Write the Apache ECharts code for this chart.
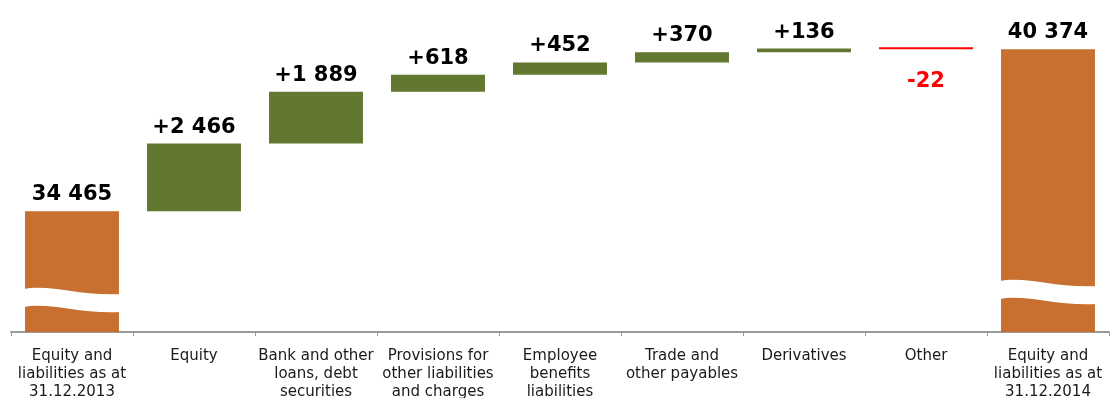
<!DOCTYPE html>
<html>
<head>
<meta charset="utf-8">
<script src="https://cdn.jsdelivr.net/npm/echarts@6/dist/echarts.min.js"></script>
<style>
  html, body { margin: 0; padding: 0; background: #fff; }
  #chart { width: 1110px; height: 398px; }
</style>
</head>
<body>
<div id="chart"></div>
<script>
// Categories of the equity-and-liabilities bridge (line breaks as drawn)
const categories = [
  'Equity and\nliabilities as at\n31.12.2013',
  'Equity',
  'Bank and other\nloans, debt\nsecurities',
  'Provisions for\nother liabilities\nand charges',
  'Employee\nbenefits\nliabilities',
  'Trade and\nother payables',
  'Derivatives',
  'Other',
  'Equity and\nliabilities as at\n31.12.2014'
];

// Opening and closing totals
const openingTotal = 34465;
const closingTotal = 40374;

// Year-on-year changes for each middle category
const changes = [2466, 1889, 618, 452, 370, 136, -22];

// Colours
const ORANGE = '#C8702F';
const GREEN = '#627730';
const RED = '#FF0000';

// Value axis window (lower part of the axis is cut away)
const Y_MIN = 30060;
const Y_MAX = 41000;

// Build stacked waterfall series from the totals and changes
const baseData = [0];
const totalData = [openingTotal];
const upData = ['-'];
const downData = ['-'];
let running = openingTotal;
changes.forEach(c => {
  if (c >= 0) {
    baseData.push(running);
    upData.push(c);
    downData.push('-');
  } else {
    baseData.push(running + c);
    upData.push('-');
    downData.push(-c);
  }
  totalData.push('-');
  running += c;
});
baseData.push(0);
totalData.push(closingTotal);
upData.push('-');
downData.push('-');

// Thousands separated by a space
const fmt = v => String(Math.abs(v)).replace(/\B(?=(\d{3})+(?!\d))/g, ' ');

const valueLabel = {
  show: true,
  fontFamily: 'DejaVu Sans',
  fontWeight: 'bold',
  fontSize: 21,
  color: '#000'
};

// Total bars carry a wavy break; offsets above the axis in pixels
const breakLift = [43, 51];
const totalIdx = totalData.map((v, i) => (v === '-' ? null : i)).filter(i => i !== null);

const chart = echarts.init(document.getElementById('chart'), null, { renderer: 'canvas' });

chart.setOption({
  animation: false,
  grid: {
    left: 11, right: 1, top: 32, bottom: 66,
    containLabel: false,
    outerBoundsMode: 'none'
  },
  xAxis: {
    type: 'category',
    data: categories,
    axisLine: { show: true, lineStyle: { color: '#9a9a9a', width: 2 } },
    axisTick: { show: true, length: 4, lineStyle: { color: '#9a9a9a', width: 1 } },
    axisLabel: {
      interval: 0,
      margin: 15,
      fontFamily: 'DejaVu Sans',
      fontSize: 15,
      lineHeight: 18,
      color: '#1a1a1a',
      align: 'center'
    }
  },
  yAxis: {
    type: 'value',
    min: Y_MIN,
    max: Y_MAX,
    show: false,
    splitLine: { show: false }
  },
  series: [
    {
      name: 'base',
      type: 'bar',
      stack: 'w',
      barCategoryGap: '23%',
      itemStyle: { color: 'transparent' },
      data: baseData,
      silent: true
    },
    {
      name: 'total',
      type: 'bar',
      stack: 'w',
      itemStyle: { color: ORANGE },
      label: Object.assign({}, valueLabel, {
        position: 'top',
        distance: 6,
        formatter: p => fmt(p.value)
      }),
      data: totalData
    },
    {
      name: 'increase',
      type: 'bar',
      stack: 'w',
      itemStyle: { color: GREEN },
      label: Object.assign({}, valueLabel, {
        position: 'top',
        distance: 6,
        formatter: p => '+' + fmt(p.value)
      }),
      data: upData
    },
    {
      name: 'decrease',
      type: 'bar',
      stack: 'w',
      barMinHeight: 2,
      itemStyle: { color: RED },
      label: Object.assign({}, valueLabel, {
        position: 'bottom',
        distance: 22,
        color: RED,
        formatter: p => '-' + fmt(p.value)
      }),
      data: downData
    },
    {
      // White wavy band marking the axis break on the total bars
      name: 'break',
      type: 'custom',
      z: 10,
      silent: true,
      data: totalIdx.map(i => [i]),
      encode: { x: 0 },
      renderItem: (params, api) => {
        const i = api.value(0);
        const foot = api.coord([i, Y_MIN]);
        const w = api.size([1, 0])[0] * 0.8;
        const L = foot[0] - w / 2;
        const R = foot[0] + w / 2;
        const y0 = foot[1] - breakLift[params.dataIndex];
        const T = 18;
        const d =
          'M' + L + ' ' + y0 +
          ' C' + (L + 0.3 * w) + ' ' + (y0 - 5) + ' ' + (L + 0.55 * w) + ' ' + (y0 + 7) + ' ' + R + ' ' + (y0 + 5) +
          ' L' + R + ' ' + (y0 + 5 + T) +
          ' C' + (L + 0.55 * w) + ' ' + (y0 + 7 + T) + ' ' + (L + 0.3 * w) + ' ' + (y0 - 5 + T) + ' ' + L + ' ' + (y0 + T) +
          ' Z';
        return {
          type: 'path',
          shape: { pathData: d },
          style: { fill: '#ffffff', stroke: null }
        };
      }
    }
  ]
});
</script>
</body>
</html>
